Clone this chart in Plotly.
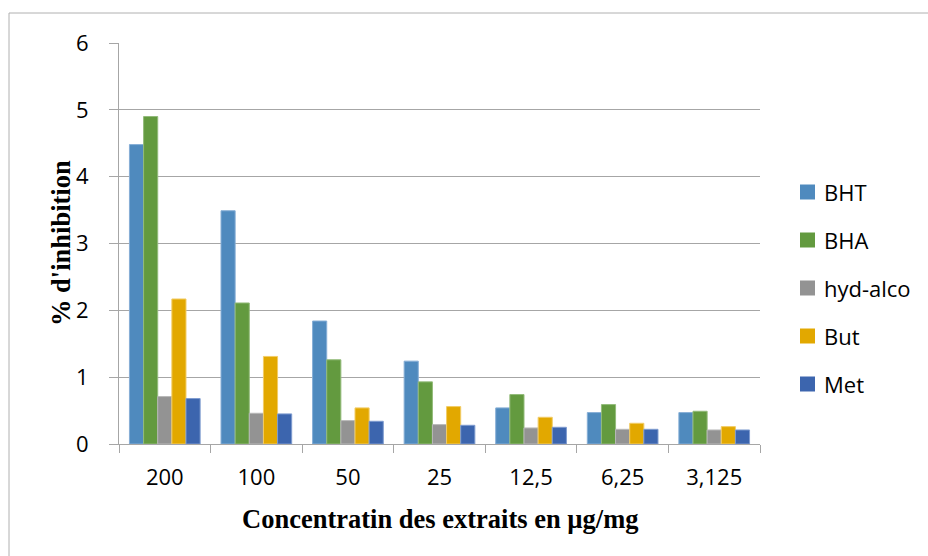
import plotly.graph_objects as go

# Concentrations (category axis) and % inhibition per extract / standard
concentrations = ["200", "100", "50", "25", "12,5", "6,25", "3,125"]
bht = [4.48, 3.49, 1.84, 1.24, 0.54, 0.47, 0.47]
bha = [4.90, 2.11, 1.26, 0.93, 0.74, 0.59, 0.49]
hyd_alco = [0.71, 0.46, 0.35, 0.29, 0.24, 0.22, 0.21]
but = [2.17, 1.31, 0.54, 0.56, 0.40, 0.31, 0.26]
met = [0.68, 0.45, 0.34, 0.28, 0.25, 0.22, 0.21]
y_ticks = [0, 1, 2, 3, 4, 5, 6]

series_names = ["BHT", "BHA", "hyd-alco", "But", "Met"]
series_values = [bht, bha, hyd_alco, but, met]
fill_colors = ["#4F8ABE", "#639A3F", "#939393", "#E2A800", "#3C65AE"]
edge_colors = ["#86AED6", "#93BB7A", "#B8B8B8", "#F2CC66", "#7E9BCF"]

W, H = 928, 556
PX0, PX1, PY0, PY1 = 119, 760, 43, 444  # plot area in pixels


def px_x(x):
    return (x - PX0) / (PX1 - PX0)


def px_y(y):
    return (PY1 - y) / (PY1 - PY0)


GRID = "#A6A6A6"
SANS = "Open Sans"
SERIF = "Liberation Serif"

fig = go.Figure()
for name, vals, fc, ec in zip(series_names, series_values, fill_colors, edge_colors):
    fig.add_trace(go.Bar(
        x=concentrations, y=vals, name=name,
        marker=dict(color=fc, line=dict(color=ec, width=1)),
        showlegend=False,
    ))

shapes = [
    # outer chart frame
    dict(type="rect", xref="paper", yref="paper",
         x0=px_x(9), x1=px_x(940), y0=px_y(13), y1=px_y(580),
         line=dict(color="#B0B0B0", width=1), layer="below"),
]
annotations = []

# legend: colour squares with labels, stacked on the right
leg_y = [192, 240, 288, 336, 384]
for name, fc, yc in zip(series_names, fill_colors, leg_y):
    shapes.append(dict(type="rect", xref="paper", yref="paper",
                       x0=px_x(800), x1=px_x(815), y0=px_y(yc + 7.5), y1=px_y(yc - 7.5),
                       fillcolor=fc, line=dict(width=0)))
    annotations.append(dict(text=name, xref="paper", yref="paper",
                            x=px_x(822), y=px_y(yc), xanchor="left", yanchor="middle",
                            showarrow=False, font=dict(family=SANS, size=22, color="#000000")))

# axis titles
annotations.append(dict(text="% d'inhibition", xref="paper", yref="paper",
                        x=px_x(61), y=px_y(243), textangle=-90,
                        xanchor="center", yanchor="middle", showarrow=False,
                        font=dict(family=SERIF, size=26.5, color="#000000", weight="bold")))
annotations.append(dict(text="Concentratin des extraits en µg/mg", xref="paper", yref="paper",
                        x=px_x(440), y=px_y(519),
                        xanchor="center", yanchor="middle", showarrow=False,
                        font=dict(family=SERIF, size=26.5, color="#000000", weight="bold")))

fig.update_layout(
    width=W, height=H,
    margin=dict(l=PX0, r=W - PX1, t=PY0, b=H - PY1, pad=0),
    paper_bgcolor="white", plot_bgcolor="white",
    barmode="group", bargap=0.228, bargroupgap=0,
    shapes=shapes, annotations=annotations,
    xaxis=dict(
        type="category", showline=True, linecolor=GRID, linewidth=1,
        ticks="outside", tickson="boundaries", ticklen=8, tickcolor=GRID,
        showgrid=False, ticklabelstandoff=14,
        tickfont=dict(family=SANS, size=22, color="#000000"),
    ),
    yaxis=dict(
        range=[0, 6], tickvals=y_ticks, showline=True, linecolor=GRID, linewidth=1,
        ticks="outside", ticklen=9, tickcolor=GRID,
        showgrid=True, gridcolor=GRID, gridwidth=1, zeroline=False,
        ticklabelstandoff=16,
        tickfont=dict(family=SANS, size=22, color="#000000"),
    ),
)

fig.write_html("out.html")
